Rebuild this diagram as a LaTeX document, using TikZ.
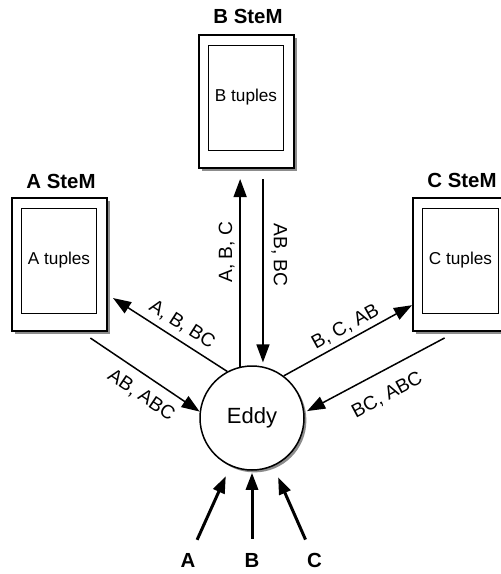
\documentclass[tikz,border=0pt]{standalone}
\usepackage{fontspec}
\setmainfont{Liberation Sans}
\usetikzlibrary{arrows.meta,shadows}
\tikzset{
  stembox/.style={draw, line width=1pt, fill=white, minimum width=47.5pt, minimum height=66.5pt, drop shadow={shadow xshift=1.5pt, shadow yshift=-1.5pt, fill=black!45, opacity=1}},
  tuplebox/.style={draw, line width=0.5pt, minimum width=34pt, minimum height=52.5pt, font=\fontsize{8.6}{10}\selectfont},
  stemtitle/.style={font=\fontsize{10.2}{12}\selectfont\bfseries},
  eddynode/.style={draw, circle, line width=0.75pt, fill=white, minimum size=52pt, inner sep=0pt, font=\fontsize{11}{13}\selectfont, drop shadow={shadow xshift=1.2pt, shadow yshift=-1.2pt, fill=black!45, opacity=1}},
  flow/.style={line width=0.75pt, -{Triangle[length=9pt,width=6.5pt]}},
  feed/.style={line width=1.5pt, -{Triangle[length=8.5pt,width=6pt]}},
  flowlbl/.style={sloped, font=\fontsize{9.6}{11}\selectfont},
  inlbl/.style={inner sep=0pt, font=\fontsize{10.2}{12}\selectfont\bfseries}
}
\begin{document}
\begin{tikzpicture}[x=0.5pt, y=-0.5pt]
\useasboundingbox (0,0) rectangle (501,574);
\node[stembox] (AStem) at (59.5,264.5) {};
\node[tuplebox] (ATup) at (59,260.5) {A tuples};
\node[stemtitle] (ATitle) at (61,181) {A SteM};
\node[stembox] (BStem) at (246.5,101) {};
\node[tuplebox] (BTup) at (246,97.5) {B tuples};
\node[stemtitle] (BTitle) at (248,16) {B SteM};
\node[stembox] (CStem) at (460.5,264.5) {};
\node[tuplebox] (CTup) at (460.5,260.5) {C tuples};
\node[stemtitle] (CTitle) at (462,180) {C SteM};
\node[eddynode] (Eddy) at (252,418) {Eddy};
\node[inlbl] (InA) at (188,560) {A};
\node[inlbl] (InB) at (252,560) {B};
\node[inlbl] (InC) at (314.5,560) {C};
\draw[flow, shorten >=3pt] (Eddy.118) -- (AStem.-32) node[flowlbl, above=-0.2pt, pos=0.446] {A, B, BC};
\draw[flow, shorten <=5.4pt] (AStem.-72) -- (Eddy.173) node[flowlbl, below=1.9pt, pos=0.596] {AB, ABC};
\draw[flow, shorten >=5.25pt] (Eddy.103) -- (Eddy.103 |- BStem.south) node[flowlbl, above=-0.9pt, pos=0.577] {A, B, C};
\draw[flow, shorten <=5.25pt, shorten >=2pt] (Eddy.78 |- BStem.south) -- (Eddy.78) node[flowlbl, above=0.5pt, pos=0.438] {AB, BC};
\draw[flow] (Eddy.53) -- (CStem.220) node[flowlbl, above=-1.2pt, pos=0.53] {B, C, AB};
\draw[flow, shorten <=6.3pt, shorten >=1.5pt] (CStem.266) -- (Eddy.6) node[flowlbl, below=4.2pt, pos=0.527] {BC, ABC};
\draw[feed, shorten <=7pt, shorten >=5.5pt] (InA) -- (Eddy);
\draw[feed, shorten <=7pt, shorten >=1pt] (InB) -- (Eddy);
\draw[feed, shorten <=7pt, shorten >=6pt] (InC) -- (Eddy);
\end{tikzpicture}
\end{document}
